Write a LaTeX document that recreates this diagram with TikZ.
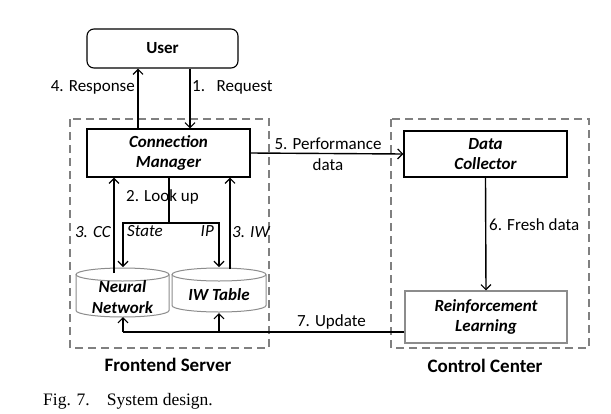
\documentclass[tikz,border=0pt]{standalone}
\usepackage{fontspec}
\setmainfont{Carlito}
\newfontfamily\capfont{Liberation Serif}
\usetikzlibrary{arrows.meta,calc}
\definecolor{dgray}{RGB}{128,128,128}
\definecolor{lgray}{RGB}{140,140,140}
\begin{document}
\begin{tikzpicture}[x=1pt,y=-1pt,
  every node/.style={font=\fontsize{17}{20.5}\selectfont},
  box/.style={draw=black, line width=1.1pt, inner sep=0pt, align=center},
  gbox/.style={draw=lgray, line width=1.1pt, inner sep=0pt, align=center},
  lbl/.style={inner sep=0pt, align=center},
  arr/.style={line width=1.4pt, -{Straight Barb[length=5pt,width=10pt,line width=1.2pt]}},
  ln/.style={line width=1.4pt},
  region/.style={draw=dgray, line width=1.8pt, dash pattern=on 8pt off 5pt},
  cyl/.style={draw=lgray, line width=1pt, fill=white}
]
\useasboundingbox (0,0) rectangle (611,413);

% regions
\draw[region] (70,119) rectangle (269,348);
\draw[region] (391,119) rectangle (589,348);

% nodes
\node[box, rounded corners=7pt, minimum width=151pt, minimum height=39pt] (user) at (162.5,48.5) {\bfseries User};
\node[box, minimum width=163pt, minimum height=48pt] (cm) at (168.5,153) {\bfseries\itshape Connection\\\bfseries\itshape Manager};
\node[box, minimum width=163pt, minimum height=46pt] (dc) at (485.5,154) {\bfseries\itshape Data\\\bfseries\itshape Collector};
\node[gbox, minimum width=162pt, minimum height=52pt] (rl) at (486,317) {\bfseries\itshape Reinforcement\\\bfseries\itshape Learning};

% cylinders
\draw[cyl] (76,274.5) -- (76,310.5) arc (180:0:46.5 and 6.5) -- (169,274.5);
\draw[cyl] (122.5,274.5) ellipse [x radius=46.5, y radius=6.5];
\node[lbl] (nn) at (122.5,297) {\bfseries\itshape Neural\\\bfseries\itshape Network};
\draw[cyl] (172,274.5) -- (172,305.5) arc (180:0:47 and 6.5) -- (266,274.5);
\draw[cyl] (219,274.5) ellipse [x radius=47, y radius=6.5];
\node[lbl] (iw) at (219,295) {\bfseries\itshape IW Table};

% coordinates
\coordinate (nnTop) at (123,267);
\coordinate (iwTop) at (219,267);
\coordinate (ccStart) at (114,273);
\coordinate (iwStart) at (230,269);
\coordinate (lk) at (169,223);
\coordinate (nnBot) at (123,317);
\coordinate (iwBot) at (219,313);
\coordinate (upd) at (123,332);

% connectors
\draw[arr] (cm.north -| 138,0) -- (user.south -| 138,0);
\draw[arr] (user.south -| 190,0) -- (cm.north -| 190,0);
\draw[ln] (cm.south -| lk) -- (lk);
\draw[arr] (lk) -| (nnTop);
\draw[arr] (lk) -| (iwTop);
\draw[arr] (ccStart) -- (cm.south -| ccStart);
\draw[arr] (iwStart) -- (cm.south -| iwStart);
\draw[arr] (cm.east) -- (dc.west);
\draw[arr] (dc.south) -- (rl.north);
\draw[ln] (rl.west |- upd) -- (upd);
\draw[arr] (upd) -- (nnBot);
\draw[arr] (iwBot |- upd) -- (iwBot);

% labels
\node[lbl, anchor=east] at (135,87) {4. Response};
\node[lbl, anchor=west] at (192,87) {1.\ \ \ Request};
\node[lbl, anchor=west] at (126,197) {2. Look up};
\node[lbl, anchor=east] at (111,232) {\itshape 3. CC};
\node[lbl, anchor=west] at (127,231) {\itshape State};
\node[lbl, anchor=east] at (214,231) {\itshape IP};
\node[lbl, anchor=west] at (232,232) {\itshape 3. IW};
\node[lbl] at (328,154) {5. Performance\\data};
\node[lbl, anchor=west] at (489,225) {6. Fresh data};
\node[lbl, anchor=east] at (366,322) {7. Update};
\node[lbl, font=\fontsize{19}{22}\selectfont\bfseries] at (168,365) {Frontend Server};
\node[lbl, font=\fontsize{19}{22}\selectfont\bfseries] at (485,366) {Control Center};
\node[lbl, anchor=west, font=\fontsize{17.5}{20}\selectfont\capfont] at (43,401) {Fig. 7.\hspace{17pt}System design.};
\end{tikzpicture}
\end{document}
